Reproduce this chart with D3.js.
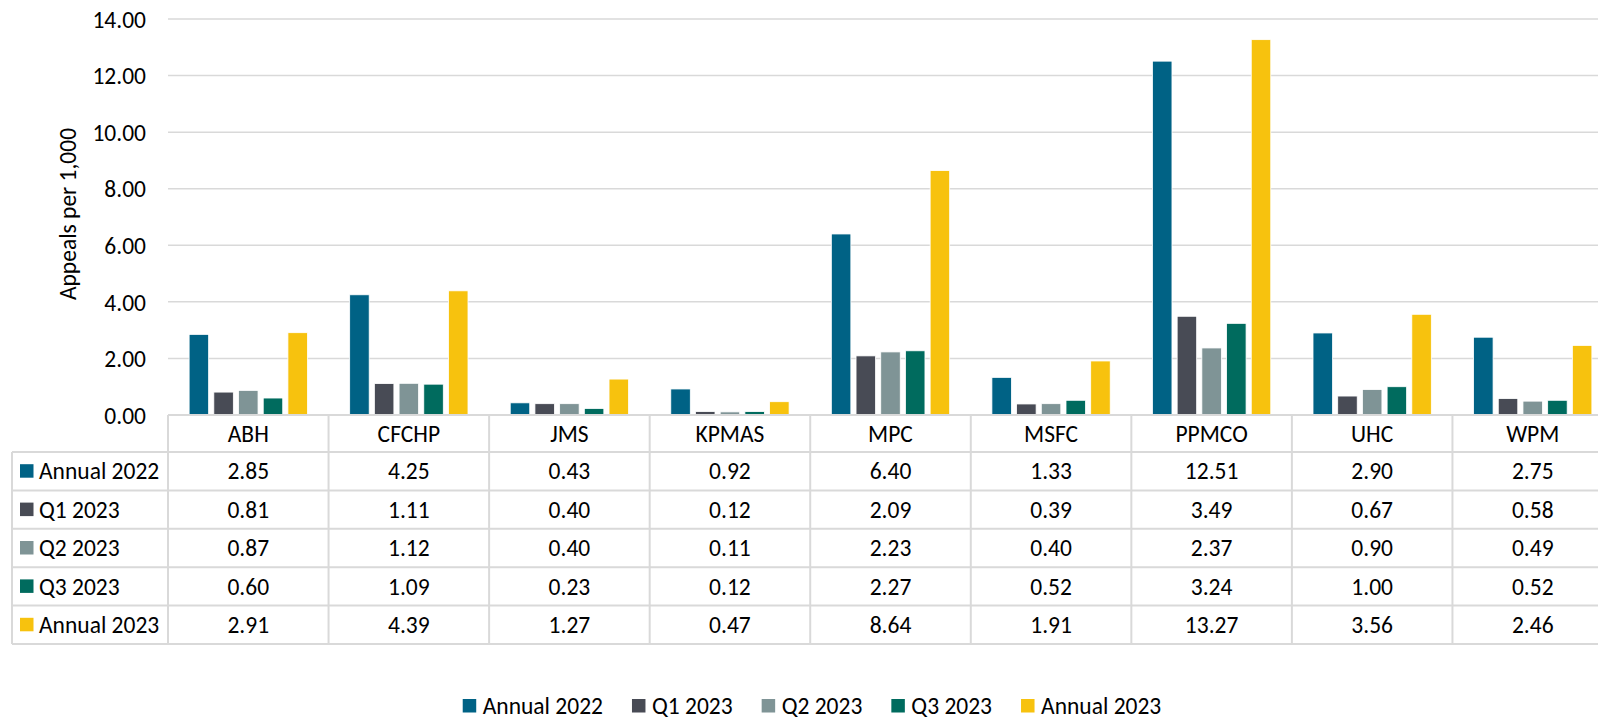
<!DOCTYPE html>
<html>
<head>
<meta charset="utf-8">
<script src="https://cdn.jsdelivr.net/npm/d3@7"></script>
<style>
  html, body { margin: 0; padding: 0; background: #fff; }
  svg { display: block; }
  text { font-family: Carlito, Calibri, Lato, "Open Sans", sans-serif; fill: #000; }
</style>
</head>
<body>
<svg id="chart" width="1598" height="722"></svg>
<script>
// Health plans along the category axis
const plans = ["ABH", "CFCHP", "JMS", "KPMAS", "MPC", "MSFC", "PPMCO", "UHC", "WPM"];

// Series names and their values per plan (appeals per 1,000)
const seriesNames = ["Annual 2022", "Q1 2023", "Q2 2023", "Q3 2023", "Annual 2023"];
const annual2022 = [2.85, 4.25, 0.43, 0.92, 6.40, 1.33, 12.51, 2.90, 2.75];
const q1_2023    = [0.81, 1.11, 0.40, 0.12, 2.09, 0.39, 3.49, 0.67, 0.58];
const q2_2023    = [0.87, 1.12, 0.40, 0.11, 2.23, 0.40, 2.37, 0.90, 0.49];
const q3_2023    = [0.60, 1.09, 0.23, 0.12, 2.27, 0.52, 3.24, 1.00, 0.52];
const annual2023 = [2.91, 4.39, 1.27, 0.47, 8.64, 1.91, 13.27, 3.56, 2.46];
const seriesColors = ["#006285", "#484B55", "#7F9496", "#006B5E", "#F7C20E"];

// Y axis ticks
const yTicks = [0, 2, 4, 6, 8, 10, 12, 14];
const yTitle = "Appeals per 1,000";

const seriesValues = [annual2022, q1_2023, q2_2023, q3_2023, annual2023];
const series = seriesNames.map((name, i) => ({ name, color: seriesColors[i], values: seriesValues[i] }));

const svg = d3.select("#chart");
const FS = 23.5;
const gridColor = "#D9D9D9";

// Layout of plot and data table
const plotLeft = 168, plotRight = 1613, plotTop = 19, plotBottom = 415;
const headerH = 37, rowH = 38.4, keyLeft = 12;

const x = d3.scaleBand().domain(plans).range([plotLeft, plotRight]).paddingInner(0).paddingOuter(0);
const xs = d3.scaleBand().domain(seriesNames).range([0, x.bandwidth()]).paddingInner(0.21).paddingOuter(0.855);
const y = d3.scaleLinear().domain([0, 14]).range([plotBottom, plotTop]);

// Horizontal gridlines
svg.append("g").selectAll("line").data(yTicks.filter(d => d > 0)).join("line")
  .attr("x1", plotLeft).attr("x2", plotRight)
  .attr("y1", d => y(d)).attr("y2", d => y(d))
  .attr("stroke", gridColor).attr("stroke-width", 1.5);

// Y axis labels
const yAxis = d3.axisLeft(y).tickValues(yTicks).tickFormat(d3.format(".2f")).tickSize(0).tickPadding(0);
const gy = svg.append("g").attr("transform", `translate(146,0)`).call(yAxis);
gy.select(".domain").remove();
gy.selectAll("text").attr("font-size", FS).attr("font-family", null).attr("fill", "#000").attr("dy", "0.35em");

// Axis title
svg.append("text")
  .attr("transform", `translate(76,${214}) rotate(-90)`)
  .attr("text-anchor", "middle")
  .attr("font-size", FS)
  .text(yTitle);

// Bars
const groups = svg.append("g").selectAll("g").data(series).join("g").attr("fill", d => d.color);
groups.selectAll("rect").data(s => s.values.map((v, i) => ({ s, v, plan: plans[i] }))).join("rect")
  .attr("x", d => x(d.plan) + xs(d.s.name))
  .attr("width", xs.bandwidth())
  .attr("y", d => y(d.v))
  .attr("height", d => y(0) - y(d.v))
  .attr("stroke", "#fff").attr("stroke-width", 0.8);

// Data table
const table = svg.append("g");
const tableBottom = plotBottom + headerH + rowH * series.length;
const rowTop = i => plotBottom + headerH + i * rowH;

// Horizontal table lines
table.append("line").attr("x1", plotLeft).attr("x2", plotRight)
  .attr("y1", plotBottom).attr("y2", plotBottom).attr("stroke", gridColor).attr("stroke-width", 2);
d3.range(series.length + 1).forEach(i => {
  table.append("line").attr("x1", keyLeft).attr("x2", plotRight)
    .attr("y1", rowTop(i)).attr("y2", rowTop(i)).attr("stroke", gridColor).attr("stroke-width", 2);
});
// Vertical table lines
table.append("line").attr("x1", keyLeft).attr("x2", keyLeft)
  .attr("y1", rowTop(0)).attr("y2", tableBottom).attr("stroke", gridColor).attr("stroke-width", 2);
table.selectAll("line.col").data(plans.concat(["__end"])).join("line").attr("class", "col")
  .attr("x1", (d, i) => plotLeft + i * x.step()).attr("x2", (d, i) => plotLeft + i * x.step())
  .attr("y1", plotBottom).attr("y2", tableBottom)
  .attr("stroke", gridColor).attr("stroke-width", 2);

// Category header
table.selectAll("text.cat").data(plans).join("text").attr("class", "cat")
  .attr("x", d => x(d) + x.bandwidth() / 2)
  .attr("y", plotBottom + headerH / 2)
  .attr("dy", "0.35em").attr("text-anchor", "middle").attr("font-size", FS)
  .text(d => d);

// Row keys and values
series.forEach((s, i) => {
  const cy = rowTop(i) + rowH / 2;
  table.append("rect").attr("x", 20).attr("y", cy - 7).attr("width", 13.5).attr("height", 13.5).attr("fill", s.color);
  table.append("text").attr("x", 39).attr("y", cy).attr("dy", "0.35em").attr("font-size", FS).text(s.name);
  table.append("g").selectAll("text").data(s.values).join("text")
    .attr("x", (v, j) => x(plans[j]) + x.bandwidth() / 2)
    .attr("y", cy).attr("dy", "0.35em").attr("text-anchor", "middle").attr("font-size", FS)
    .text(v => d3.format(".2f")(v));
});

// Legend along the bottom
const legend = svg.append("g");
const items = legend.selectAll("g").data(series).join("g");
items.append("rect").attr("width", 13.5).attr("height", 13.5).attr("y", -7).attr("fill", d => d.color);
items.append("text").attr("x", 20).attr("dy", "0.35em").attr("font-size", FS).text(d => d.name);
const legendGap = 29;
let cursor = 0;
items.each(function () {
  const w = d3.select(this).select("text").node().getComputedTextLength();
  d3.select(this).attr("transform", `translate(${cursor},0)`);
  cursor += 20 + w + legendGap;
});
const legendWidth = cursor - legendGap;
legend.attr("transform", `translate(${812 - legendWidth / 2},706)`);
</script>
</body>
</html>
